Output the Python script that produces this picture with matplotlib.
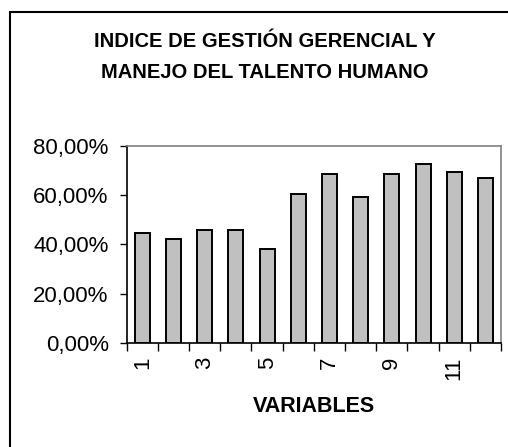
import matplotlib
matplotlib.use("Agg")
import matplotlib.pyplot as plt
from matplotlib.patches import Rectangle
from matplotlib.ticker import FuncFormatter, FixedLocator

plt.rcParams['font.family'] = ['Liberation Sans', 'DejaVu Sans']

variables = list(range(1, 13))
values = [44.7, 42.3, 45.7, 45.7, 38.2, 60.3, 68.6, 59.4, 68.6, 72.5, 69.3, 66.8]
tick_labels = ['1', '3', '5', '7', '9', '11']
title = "INDICE DE GESTIÓN GERENCIAL Y\nMANEJO DEL TALENTO HUMANO"
xlabel = "VARIABLES"

W, H = 508, 447
fig = plt.figure(figsize=(W / 100, H / 100), dpi=100)
fig.patch.set_facecolor('white')

# outer chart border (clipped at right and bottom)
fig.patches.append(Rectangle((10 / W, -0.05), 1.2, 1 - 12 / H + 0.05,
                             transform=fig.transFigure, fill=False,
                             edgecolor='black', linewidth=1.5))

ax = fig.add_axes([126.7 / W, 1 - 342.7 / H, (501 - 126.7) / W, (342.7 - 146) / H])
x = list(range(len(values)))
ax.bar(x, values, width=0.48, color='#c0c0c0', edgecolor='black', linewidth=1.4, zorder=3)

ax.set_xlim(-0.5, len(values) - 0.5)
ax.set_ylim(0, 80)
ax.set_yticks([0, 20, 40, 60, 80])
ax.yaxis.set_major_formatter(FuncFormatter(lambda v, p: f"{v:.2f}".replace('.', ',') + '%'))
ax.tick_params(axis='y', direction='out', length=5, width=1, labelsize=16, pad=8, colors='black')

ax.set_xticks([i for i in range(0, len(values), 2)])
ax.set_xticklabels(tick_labels, rotation=90, fontsize=16)
ax.xaxis.set_minor_locator(FixedLocator([i - 0.5 for i in range(len(values) + 1)]))
ax.tick_params(axis='x', which='major', length=0, pad=10)
ax.tick_params(axis='x', which='minor', direction='out', length=6, width=1)

for s in ['left', 'bottom']:
    ax.spines[s].set_color('black')
    ax.spines[s].set_linewidth(1.2)
for s in ['top', 'right']:
    ax.spines[s].set_color('#808080')
    ax.spines[s].set_linewidth(1.2)

fig.text(265 / W, 1 - 57 / H, title, ha='center', va='center', fontsize=14.5,
         fontweight='bold', linespacing=1.85)
fig.text(314 / W, 1 - 407 / H, xlabel, ha='center', va='center', fontsize=15.5,
         fontweight='bold')

fig.savefig('out.png', dpi=100, facecolor='white')
